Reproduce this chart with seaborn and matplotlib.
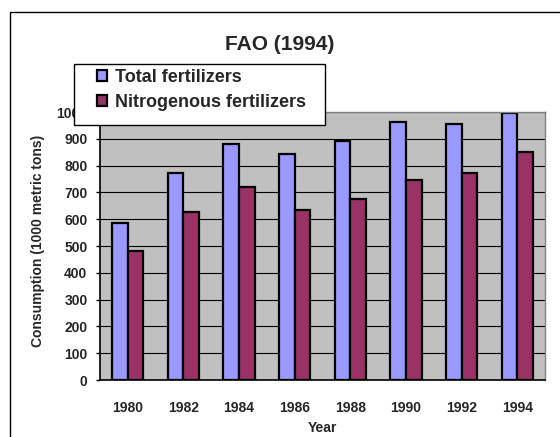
import matplotlib

matplotlib.use("Agg")
import matplotlib.pyplot as plt
import numpy as np
import pandas as pd
import seaborn as sns
from matplotlib.patches import Rectangle

# data
years = ["1980", "1982", "1984", "1986", "1988", "1990", "1992", "1994"]
total_fertilizers = [585, 772, 882, 845, 890, 964, 957, 995]
nitrogenous_fertilizers = [482, 627, 721, 635, 675, 747, 772, 851]
series_names = ["Total fertilizers", "Nitrogenous fertilizers"]
y_ticks = list(range(0, 1001, 100))

df = pd.DataFrame(
    {
        "Year": years * 2,
        "value": total_fertilizers + nitrogenous_fertilizers,
        "series": [series_names[0]] * len(years) + [series_names[1]] * len(years),
    }
)

sns.set_style("white")
plt.rcParams["font.family"] = ["Liberation Sans", "DejaVu Sans"]
plt.rcParams["font.weight"] = "bold"

W, H = 560, 437
fig = plt.figure(figsize=(W / 100, H / 100), dpi=100)
fig.patch.set_facecolor("white")

# outer chart border (runs off the right / bottom of the image)
fig.patches.append(
    Rectangle((10 / W, -0.1), 1.0, 1 - 12 / H + 0.1, transform=fig.transFigure,
              fill=False, edgecolor="black", linewidth=1.0, zorder=0)
)

ax = fig.add_axes([100 / W, 1 - 380 / H, 445 / W, 268 / H])
ax.set_facecolor("#C0C0C0")

sns.barplot(
    data=df, x="Year", y="value", hue="series",
    palette=["#9999FF", "#993366"], width=0.56, gap=0,
    edgecolor="black", linewidth=1.6, saturation=1, ax=ax,
)
handles, labels = ax.get_legend_handles_labels()
ax.get_legend().remove()

ax.set_ylim(0, 1000)
ax.set_xlim(-0.5, len(years) - 0.5)
ax.set_yticks(y_ticks)
ax.set_yticklabels([str(v) for v in y_ticks], fontsize=10, fontweight="bold")
ax.yaxis.grid(True, color="black", linewidth=0.8)
ax.set_axisbelow(True)

ax.set_xticks(np.arange(len(years)))
ax.set_xticklabels(years, fontsize=10, fontweight="bold")
ax.set_xticks(np.arange(-0.5, len(years)), minor=True)
ax.tick_params(axis="x", which="major", length=0, pad=15)
ax.tick_params(axis="x", which="minor", length=3, width=1, color="black", direction="out")
ax.tick_params(axis="y", length=3, width=1, color="black", direction="out", pad=6, left=True)

for side in ["left", "bottom"]:
    ax.spines[side].set_color("black")
    ax.spines[side].set_linewidth(1.2)
for side in ["top", "right"]:
    ax.spines[side].set_color("#808080")
    ax.spines[side].set_linewidth(1.0)

ax.set_xlabel("Year", fontsize=10, fontweight="bold")
ax.xaxis.set_label_coords(0.5, -0.153)
ax.set_ylabel("Consumption (1000 metric tons)", fontsize=10, fontweight="bold")
ax.yaxis.set_label_coords(-0.124, 0.519)

fig.text(280 / W, 1 - 44 / H, "FAO (1994)", ha="center", va="center",
         fontsize=15, fontweight="bold")

# legend box, overlapping the top-left of the plot area
box = Rectangle((74 / W, 1 - 125 / H), 251 / W, 61 / H, transform=fig.transFigure,
                facecolor="white", edgecolor="black", linewidth=1.0, zorder=4)
fig.patches.append(box)
leg = fig.legend(
    handles, labels, loc="upper left", bbox_to_anchor=(93 / W, 1 - 65 / H),
    frameon=False, prop={"size": 13, "weight": "bold"},
    handlelength=0.6, handleheight=0.6, handletextpad=0.4,
    labelspacing=0.45, borderpad=0.2, borderaxespad=0,
)
leg.set_zorder(5)

fig.savefig("out.png", dpi=100)
